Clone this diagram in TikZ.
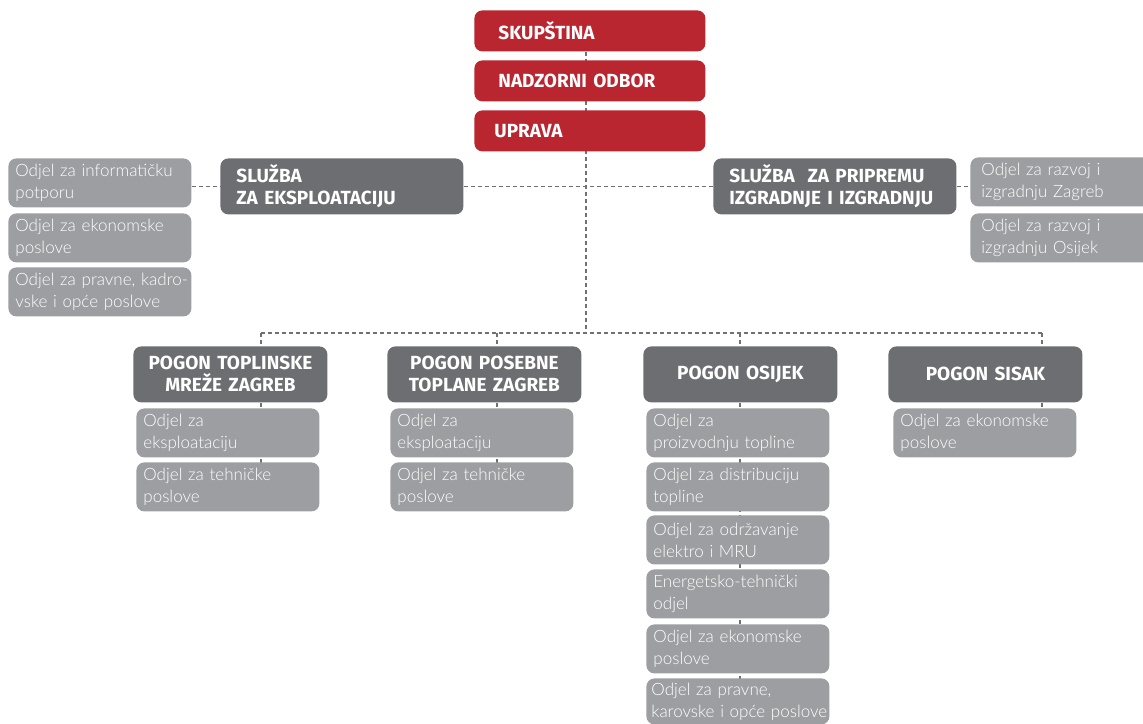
\documentclass[tikz,border=0pt]{standalone}
\usepackage{fontspec}
\usetikzlibrary{positioning,backgrounds}
\IfFontExistsTF{Lato Light}{\setmainfont{Lato Light}}{\setmainfont{Lato}}
\newfontfamily\naslovfont{Fira Sans}[UprightFont=*-Bold]

\definecolor{ucrvena}{HTML}{BA2630}
\definecolor{utamna}{HTML}{6D6E71}
\definecolor{usvijetla}{HTML}{9D9EA1}
\definecolor{ucrta}{HTML}{707173}

\tikzset{
  kutija/.style={anchor=north west, rounded corners=4pt, inner ysep=0pt, text=white},
  vodstvo/.style={kutija, fill=ucrvena, minimum height=20.5pt, text width=91.5pt, inner xsep=12pt, align=left, font=\naslovfont\fontsize{9.5}{11}\selectfont},
  sluzba/.style={kutija, fill=utamna, minimum height=28pt, text width=111.5pt, inner xsep=5pt, align=left, font=\naslovfont\fontsize{9.5}{11}\selectfont},
  pogon/.style={kutija, fill=utamna, minimum height=28pt, text width=91pt, inner xsep=3pt, align=center, font=\naslovfont\fontsize{9.5}{11}\selectfont},
  odjel/.style={kutija, fill=usvijetla, minimum height=24.5pt, text width=84.5pt, inner xsep=3.5pt, align=left, font=\fontsize{8.5}{11}\selectfont},
  siroki/.style={inner xsep=1pt, text width=89.5pt},
  veza/.style={draw=ucrta, line width=0.6pt, dash pattern=on 2pt off 1.5pt}
}

\begin{document}
\begin{tikzpicture}[x=0.5pt, y=-0.5pt]
  \useasboundingbox (0,0) rectangle (1143,723);

  % vodstvo
  \node[vodstvo] (skupstina) at (474,10) {SKUPŠTINA};
  \node[vodstvo] (nadzor) at (474,60) {NADZORNI ODBOR};
  \node[vodstvo] (uprava) at (474,110) {\hspace*{-2pt}UPRAVA};

  % sluzbe
  \node[sluzba] (eksp) at (220,158) {\hspace*{3pt}SLUŽBA\\\hspace*{3pt}ZA EKSPLOATACIJU};
  \node[sluzba] (priprema) at (713,158) {\hspace*{3pt}SLUŽBA\ \ ZA PRIPREMU\\\hspace*{3pt}IZGRADNJE I IZGRADNJU};

  % odjeli sluzbi
  \node[odjel] (inform) at (8,158) {Odjel za informatičku\\potporu};
  \node[odjel] (ekonom) at (8,213) {Odjel za ekonomske\\poslove};
  \node[odjel, siroki] (pravne) at (8,267) {\hspace*{2.5pt}Odjel za pravne, kadro-\\\hspace*{2.5pt}vske i opće poslove};
  \node[odjel] (razvojzg) at (970,157) {\hspace*{2pt}Odjel za razvoj i\\\hspace*{2pt}izgradnju Zagreb};
  \node[odjel] (razvojos) at (970,213) {\hspace*{2pt}Odjel za razvoj i\\\hspace*{2pt}izgradnju Osijek};

  % pogoni
  \node[pogon] (toplinske) at (133,346) {POGON TOPLINSKE\\MREŽE ZAGREB};
  \node[pogon] (posebne) at (387,346) {POGON POSEBNE\\TOPLANE ZAGREB};
  \node[pogon] (osijek) at (643,346) {POGON OSIJEK};
  \node[pogon] (sisak) at (888,346) {POGON SISAK};

  % odjeli pogona
  \node[odjel] (top1) at (136,408) {Odjel za\\eksploataciju};
  \node[odjel] (top2) at (136,462) {Odjel za tehničke\\poslove};
  \node[odjel] (pos1) at (390,408) {Odjel za\\eksploataciju};
  \node[odjel] (pos2) at (390,462) {Odjel za tehničke\\poslove};
  \node[odjel] (osi1) at (646,408) {Odjel za\\proizvodnju topline};
  \node[odjel] (osi2) at (646,462) {Odjel za distribuciju\\topline};
  \node[odjel] (osi3) at (646,515) {Odjel za održavanje\\elektro i MRU};
  \node[odjel] (osi4) at (646,569) {Energetsko-tehnički\\odjel};
  \node[odjel] (osi5) at (646,624) {Odjel za ekonomske\\poslove};
  \node[odjel, siroki, minimum height=23pt] (osi6) at (646,678) {\hspace*{1.5pt}Odjel za pravne,\\\hspace*{1.5pt}karovske i opće poslove};
  \node[odjel] (sis1) at (893,408) {Odjel za ekonomske\\poslove};

  % sabirnica prema pogonima
  \coordinate (sabirnica) at (586,333);
  \coordinate (d1) at (261,333);
  \coordinate (d2) at (497,333);
  \coordinate (d3) at (740,333);
  \coordinate (d4) at (1042,333);

  % veze (iza kutija)
  \begin{scope}[on background layer]
    \draw[veza] (skupstina.south -| sabirnica) -- (sabirnica);
    \draw[veza] (eksp.east) -- (priprema.west);
    \draw[veza] (inform.east |- eksp.west) -- (eksp.west);
    \draw[veza] (priprema.east) -- (razvojzg.west |- priprema.east);
    \draw[veza] (d1) -- (d4);
    \draw[veza] (d1) -- (d1 |- top2.center);
    \draw[veza] (d2) -- (d2 |- pos2.center);
    \draw[veza] (d3) -- (d3 |- osi6.center);
    \draw[veza] (d4) -- (d4 |- sis1.center);
  \end{scope}
\end{tikzpicture}
\end{document}
